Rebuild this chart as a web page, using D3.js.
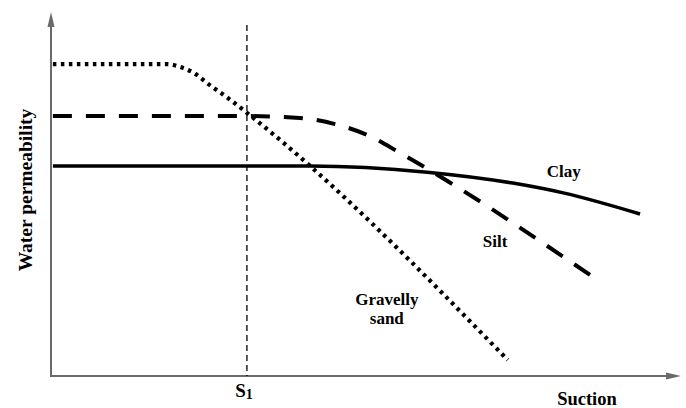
<!DOCTYPE html>
<html>
<head>
<meta charset="utf-8">
<script src="https://cdn.jsdelivr.net/npm/d3@7"></script>
<style>
  body { margin: 0; background: #fff; }
  text { font-family: "Liberation Serif", "Times New Roman", serif; font-weight: bold; fill: #000; }
</style>
</head>
<body>
<div id="chart-area"></div>
<script>
var chartWidth = 686;
var chartHeight = 408;

// suction / permeability in arbitrary units (0-100)
var gravelSuction = [0.3, 18.4, 20.5, 22.9, 25.2, 27.9, 31.1, 72.5];
var gravelPerm    = [85.7, 85.7, 84.9, 83.0, 79.9, 76.6, 72.3, 4.4];

var siltSuction = [0.3, 31.6, 39.5, 45.1, 50.6, 55.4, 85.6];
var siltPerm    = [71.4, 71.4, 70.9, 69.2, 65.9, 61.3, 27.7];

var claySuction = [0.3, 41.1, 59.7, 73.3, 81.3, 93.5];
var clayPerm    = [57.7, 57.7, 56.0, 53.0, 50.3, 44.5];

var s1 = 31.1;
var s1Top = 96.4;

var labels = [
  {lines: ["Clay"], sx: 81.4, py: 54.7},
  {lines: ["Silt"], sx: 70.5, py: 35.4},
  {lines: ["Gravelly", "sand"], sx: 53.3, py: 19.5}
];

var svg = d3.select("#chart-area").append("svg")
  .attr("width", chartWidth).attr("height", chartHeight);

var x = d3.scaleLinear().domain([0, 100]).range([51, 681]);
var y = d3.scaleLinear().domain([0, 100]).range([376, 12]);

var axisColor = "#6a6a6a";

// axes with arrow heads
svg.append("line").attr("x1", x(0)).attr("y1", y(0)).attr("x2", x(0)).attr("y2", y(100) + 10)
  .attr("stroke", axisColor).attr("stroke-width", 2);
svg.append("path")
  .attr("d", "M" + x(0) + "," + y(100) + " L" + (x(0) - 3.5) + "," + (y(100) + 15) + " L" + (x(0) + 3.5) + "," + (y(100) + 15) + "Z")
  .attr("fill", axisColor);

svg.append("line").attr("x1", x(0) - 1).attr("y1", y(0)).attr("x2", x(100) - 10).attr("y2", y(0))
  .attr("stroke", axisColor).attr("stroke-width", 2);
svg.append("path")
  .attr("d", "M" + x(100) + "," + y(0) + " L" + (x(100) - 15) + "," + (y(0) - 3.5) + " L" + (x(100) - 15) + "," + (y(0) + 3.5) + "Z")
  .attr("fill", axisColor);

// S1 reference line
svg.append("line").attr("x1", x(s1)).attr("x2", x(s1)).attr("y1", y(s1Top)).attr("y2", y(0))
  .attr("stroke", "#000").attr("stroke-width", 1.3).attr("stroke-dasharray", "6,4");

var line = d3.line()
  .x((d) => { return x(d[0]); })
  .y((d) => { return y(d[1]); })
  .curve(d3.curveMonotoneX);

function zip(a, b) { return a.map((v, i) => { return [v, b[i]]; }); }

svg.append("path").datum(zip(claySuction, clayPerm)).attr("d", line)
  .attr("fill", "none").attr("stroke", "#000").attr("stroke-width", 3.5);

svg.append("path").datum(zip(siltSuction, siltPerm)).attr("d", line)
  .attr("fill", "none").attr("stroke", "#000").attr("stroke-width", 4)
  .attr("stroke-dasharray", "19,14");

svg.append("path").datum(zip(gravelSuction, gravelPerm)).attr("d", line)
  .attr("fill", "none").attr("stroke", "#000").attr("stroke-width", 4.2)
  .attr("stroke-dasharray", "3.5,4.5");

// curve labels
labels.forEach((l) => {
  var t = svg.append("text").attr("x", x(l.sx)).attr("y", y(l.py))
    .attr("text-anchor", "middle").attr("font-size", "17px");
  l.lines.forEach((s, i) => {
    t.append("tspan").attr("x", x(l.sx)).attr("dy", i == 0 ? 0 : 19).text(s);
  });
});

// axis labels
var s1Label = svg.append("text").attr("x", x(s1) - 3).attr("y", 397)
  .attr("text-anchor", "middle").attr("font-size", "19px");
s1Label.append("tspan").text("S");
s1Label.append("tspan").attr("font-size", "14px").attr("dy", 2).text("1");

svg.append("text").attr("x", 587).attr("y", 405).attr("text-anchor", "middle")
  .attr("font-size", "18.5px").text("Suction");

svg.append("text").attr("transform", "translate(32, 190) rotate(-90)")
  .attr("text-anchor", "middle").attr("font-size", "19.5px").text("Water permeability");
</script>
</body>
</html>
